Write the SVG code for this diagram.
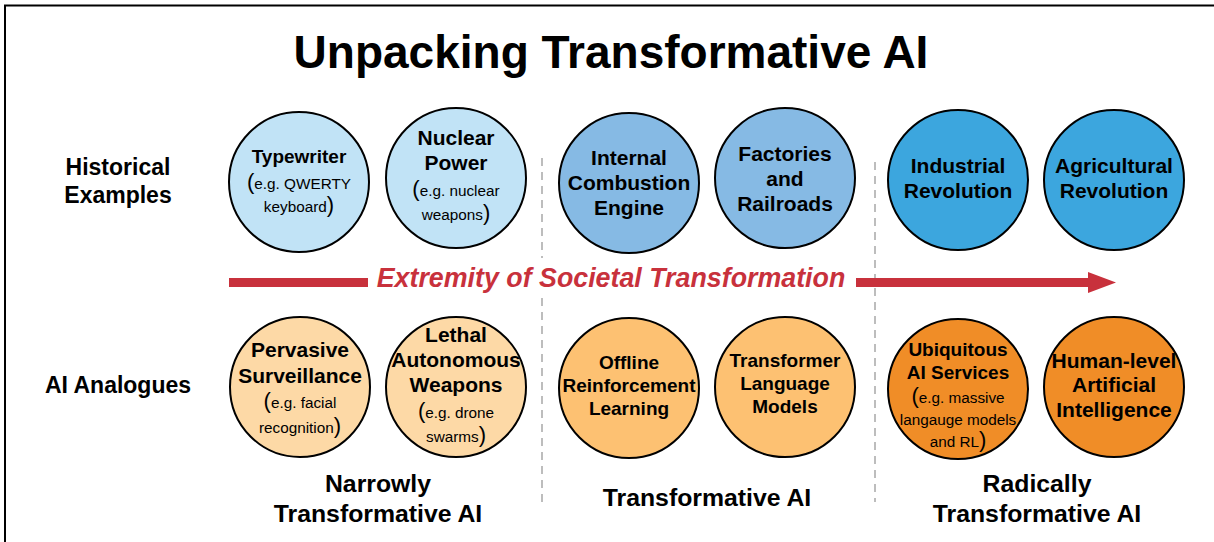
<svg xmlns="http://www.w3.org/2000/svg" width="1214" height="542" viewBox="0 0 1214 542">
<style>
text{font-family:"Liberation Sans",Arial,sans-serif;fill:#000;text-anchor:middle}
.t{font-size:46px;font-weight:bold}
.row{font-size:23px;font-weight:bold}
.cat{font-size:24.8px;font-weight:bold}
.h{font-size:21px;font-weight:bold}
.hs{font-size:19px;font-weight:bold}
.s{font-size:15.3px}
.p{font-size:22px}
.ax{font-size:26.8px;font-weight:bold;font-style:italic;fill:#c8313c}
circle{stroke:#000;stroke-width:2}
.b1{fill:#c1e3f6}.b2{fill:#86bae4}.b3{fill:#3ca6de}
.o1{fill:#fdd9a6}.o2{fill:#fdc172}.o3{fill:#f08d27}
.dash{stroke:#a8a8a8;stroke-width:1.5;stroke-dasharray:8 6;fill:none}
</style>
<rect width="1214" height="542" fill="#fff"/>
<path d="M5 542V5.5H1214" fill="none" stroke="#000" stroke-width="2"/>
<text class="t" x="611" y="68">Unpacking Transformative AI</text>
<g id="row-labels">
<text class="row" x="118" y="175">Historical</text>
<text class="row" x="118" y="203">Examples</text>
<text class="row" x="118" y="393">AI Analogues</text>
</g>
<g id="connectors">
<path class="dash" d="M542 158V502"/>
<path class="dash" d="M875 162V502"/>
<rect x="370" y="258" width="482" height="40" fill="#fff"/>
<rect x="229" y="278" width="139" height="9" fill="#c8313c"/>
<path d="M856 278H1088V272L1116 282.5L1088 293V287H856Z" fill="#c8313c"/>
<text class="ax" x="611" y="287">Extremity of Societal Transformation</text>
</g>
<g id="typewriter">
<circle class="b1" cx="299" cy="182" r="70"/>
<text class="hs" x="299" y="163">Typewriter</text>
<text class="s" x="299" y="189"><tspan class="p">(</tspan>e.g. QWERTY</text>
<text class="s" x="299" y="212">keyboard<tspan class="p">)</tspan></text>
</g>
<g id="nuclear">
<circle class="b1" cx="456" cy="178" r="70"/>
<text class="h" x="456" y="145">Nuclear</text>
<text class="h" x="456" y="170">Power</text>
<text class="s" x="456" y="196"><tspan class="p">(</tspan>e.g. nuclear</text>
<text class="s" x="456" y="220">weapons<tspan class="p">)</tspan></text>
</g>
<g id="ice">
<circle class="b2" cx="629" cy="183" r="70"/>
<text class="h" x="629" y="165">Internal</text>
<text class="h" x="629" y="190">Combustion</text>
<text class="h" x="629" y="215">Engine</text>
</g>
<g id="factories">
<circle class="b2" cx="785" cy="178" r="70"/>
<text class="h" x="785" y="161">Factories</text>
<text class="h" x="785" y="186">and</text>
<text class="h" x="785" y="211">Railroads</text>
</g>
<g id="industrial">
<circle class="b3" cx="958" cy="180" r="70"/>
<text class="h" x="958" y="173">Industrial</text>
<text class="h" x="958" y="198">Revolution</text>
</g>
<g id="agricultural">
<circle class="b3" cx="1114" cy="180" r="70"/>
<text class="h" x="1114" y="173">Agricultural</text>
<text class="h" x="1114" y="198">Revolution</text>
</g>
<g id="surveillance">
<circle class="o1" cx="300" cy="387" r="70"/>
<text class="h" x="300" y="357">Pervasive</text>
<text class="h" x="300" y="383">Surveillance</text>
<text class="s" x="300" y="408"><tspan class="p">(</tspan>e.g. facial</text>
<text class="s" x="300" y="433">recognition<tspan class="p">)</tspan></text>
</g>
<g id="laws">
<circle class="o1" cx="456" cy="387" r="70"/>
<text class="h" x="456" y="342">Lethal</text>
<text class="h" x="456" y="367">Autonomous</text>
<text class="h" x="456" y="392">Weapons</text>
<text class="s" x="456" y="418"><tspan class="p">(</tspan>e.g. drone</text>
<text class="s" x="456" y="442">swarms<tspan class="p">)</tspan></text>
</g>
<g id="offline-rl">
<circle class="o2" cx="629" cy="388" r="70"/>
<text class="hs" x="629" y="369">Offline</text>
<text class="hs" x="629" y="392">Reinforcement</text>
<text class="hs" x="629" y="415">Learning</text>
</g>
<g id="transformer">
<circle class="o2" cx="785" cy="387" r="70"/>
<text class="hs" x="785" y="367">Transformer</text>
<text class="hs" x="785" y="390">Language</text>
<text class="hs" x="785" y="413">Models</text>
</g>
<g id="ubiquitous">
<circle class="o3" cx="958" cy="389" r="70"/>
<text class="hs" x="958" y="356">Ubiquitous</text>
<text class="hs" x="958" y="379">AI Services</text>
<text class="s" x="958" y="403"><tspan class="p">(</tspan>e.g. massive</text>
<text class="s" x="958" y="425">langauge models</text>
<text class="s" x="958" y="447">and RL<tspan class="p">)</tspan></text>
</g>
<g id="hlai">
<circle class="o3" cx="1114" cy="387" r="70"/>
<text class="h" x="1114" y="368">Human-level</text>
<text class="h" x="1114" y="392">Artificial</text>
<text class="h" x="1114" y="417">Intelligence</text>
</g>
<g id="categories">
<text class="cat" x="378" y="492">Narrowly</text>
<text class="cat" x="378" y="522">Transformative AI</text>
<text class="cat" x="707" y="506">Transformative AI</text>
<text class="cat" x="1037" y="492">Radically</text>
<text class="cat" x="1037" y="522">Transformative AI</text>
</g>
</svg>
